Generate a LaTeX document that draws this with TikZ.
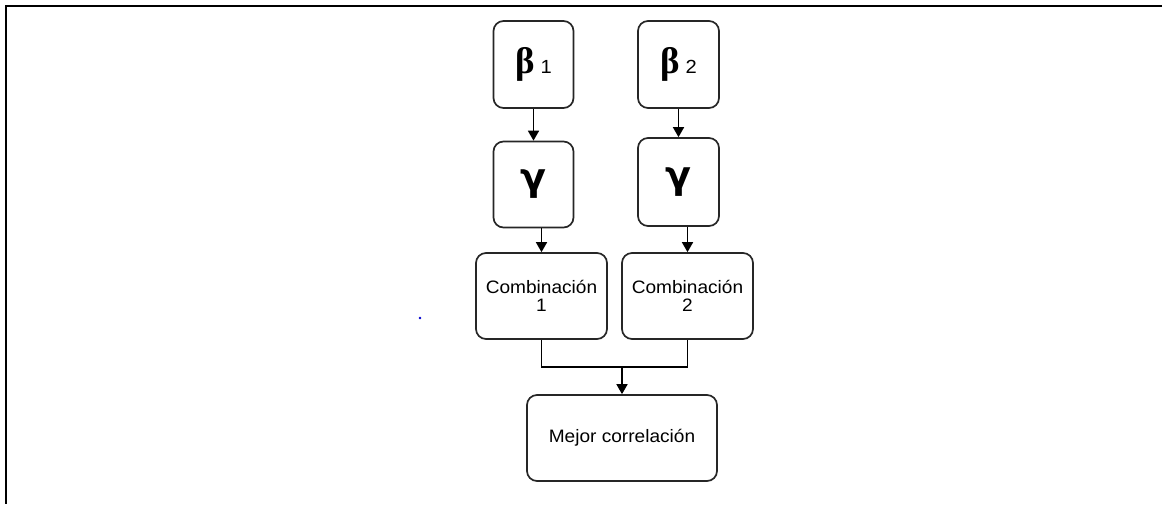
\documentclass[tikz,border=0pt]{standalone}
\usepackage{fontspec}
\setmainfont{Liberation Sans}[FakeStretch=1.06]
\newfontfamily\greekfont{Liberation Serif}[BoldFont={Liberation Serif Bold}]
\newfontfamily\gammafont{DejaVu Sans}[BoldFont={DejaVu Sans Bold}]
\usetikzlibrary{arrows.meta}
\begin{document}
\begin{tikzpicture}[x=1pt,y=-1pt,
  box/.style={draw=black!85, line width=1.7pt, rounded corners=10pt, inner sep=0pt,
    minimum width=80pt, minimum height=87pt, align=center, text=black},
  widebox/.style={box, minimum width=131pt, minimum height=86pt,
    font=\fontsize{18}{17}\selectfont},
  flow/.style={line width=1.7pt, -{Triangle[length=10pt,width=11pt]}},
  link/.style={line width=1.7pt}]
\useasboundingbox (0,0) rectangle (1171,504);
% page frame: top and left edges only
\draw[line width=2.4pt] (1162,6) -- (6,6) -- (6,504);

% coefficient boxes
\node[box] (b1) at (533.5,64.5)
  {{\greekfont\bfseries\fontsize{37}{37}\selectfont β}\hspace{6pt}{\fontsize{19}{19}\selectfont 1}};
\node[box, minimum width=81pt] (b2) at (678.5,64.5)
  {{\greekfont\bfseries\fontsize{37}{37}\selectfont β}\hspace{6pt}{\fontsize{19}{19}\selectfont 2}};
\node[box, minimum height=86pt] (g1) at (533.5,184.5)
  {\gammafont\bfseries\fontsize{38}{38}\selectfont γ};
\node[box, minimum width=81pt, minimum height=88pt] (g2) at (678.5,182)
  {\gammafont\bfseries\fontsize{38}{38}\selectfont γ};

% combinations and result
\node[widebox] (c1) at (541.5,296) {Combinación\\[1pt]1};
\node[widebox] (c2) at (687.5,296) {Combinación\\[1pt]2};
\node[widebox, minimum width=190pt] (m) at (622,438) {Mejor correlación};

% connectors
\draw[flow] (b1) -- (g1);
\draw[flow] (b2) -- (g2);
\draw[flow] (g1.south -| c1.north) -- (c1.north);
\draw[flow] (g2.south -| c2.north) -- (c2.north);
\coordinate (j) at (622,367);
\draw[link] (c1.south) |- (j) -| (c2.south);
\draw[flow] (j) -- (m.north);

% stray dot
\fill[blue!80!black] (420,318) circle (1.3pt);
\end{tikzpicture}
\end{document}
